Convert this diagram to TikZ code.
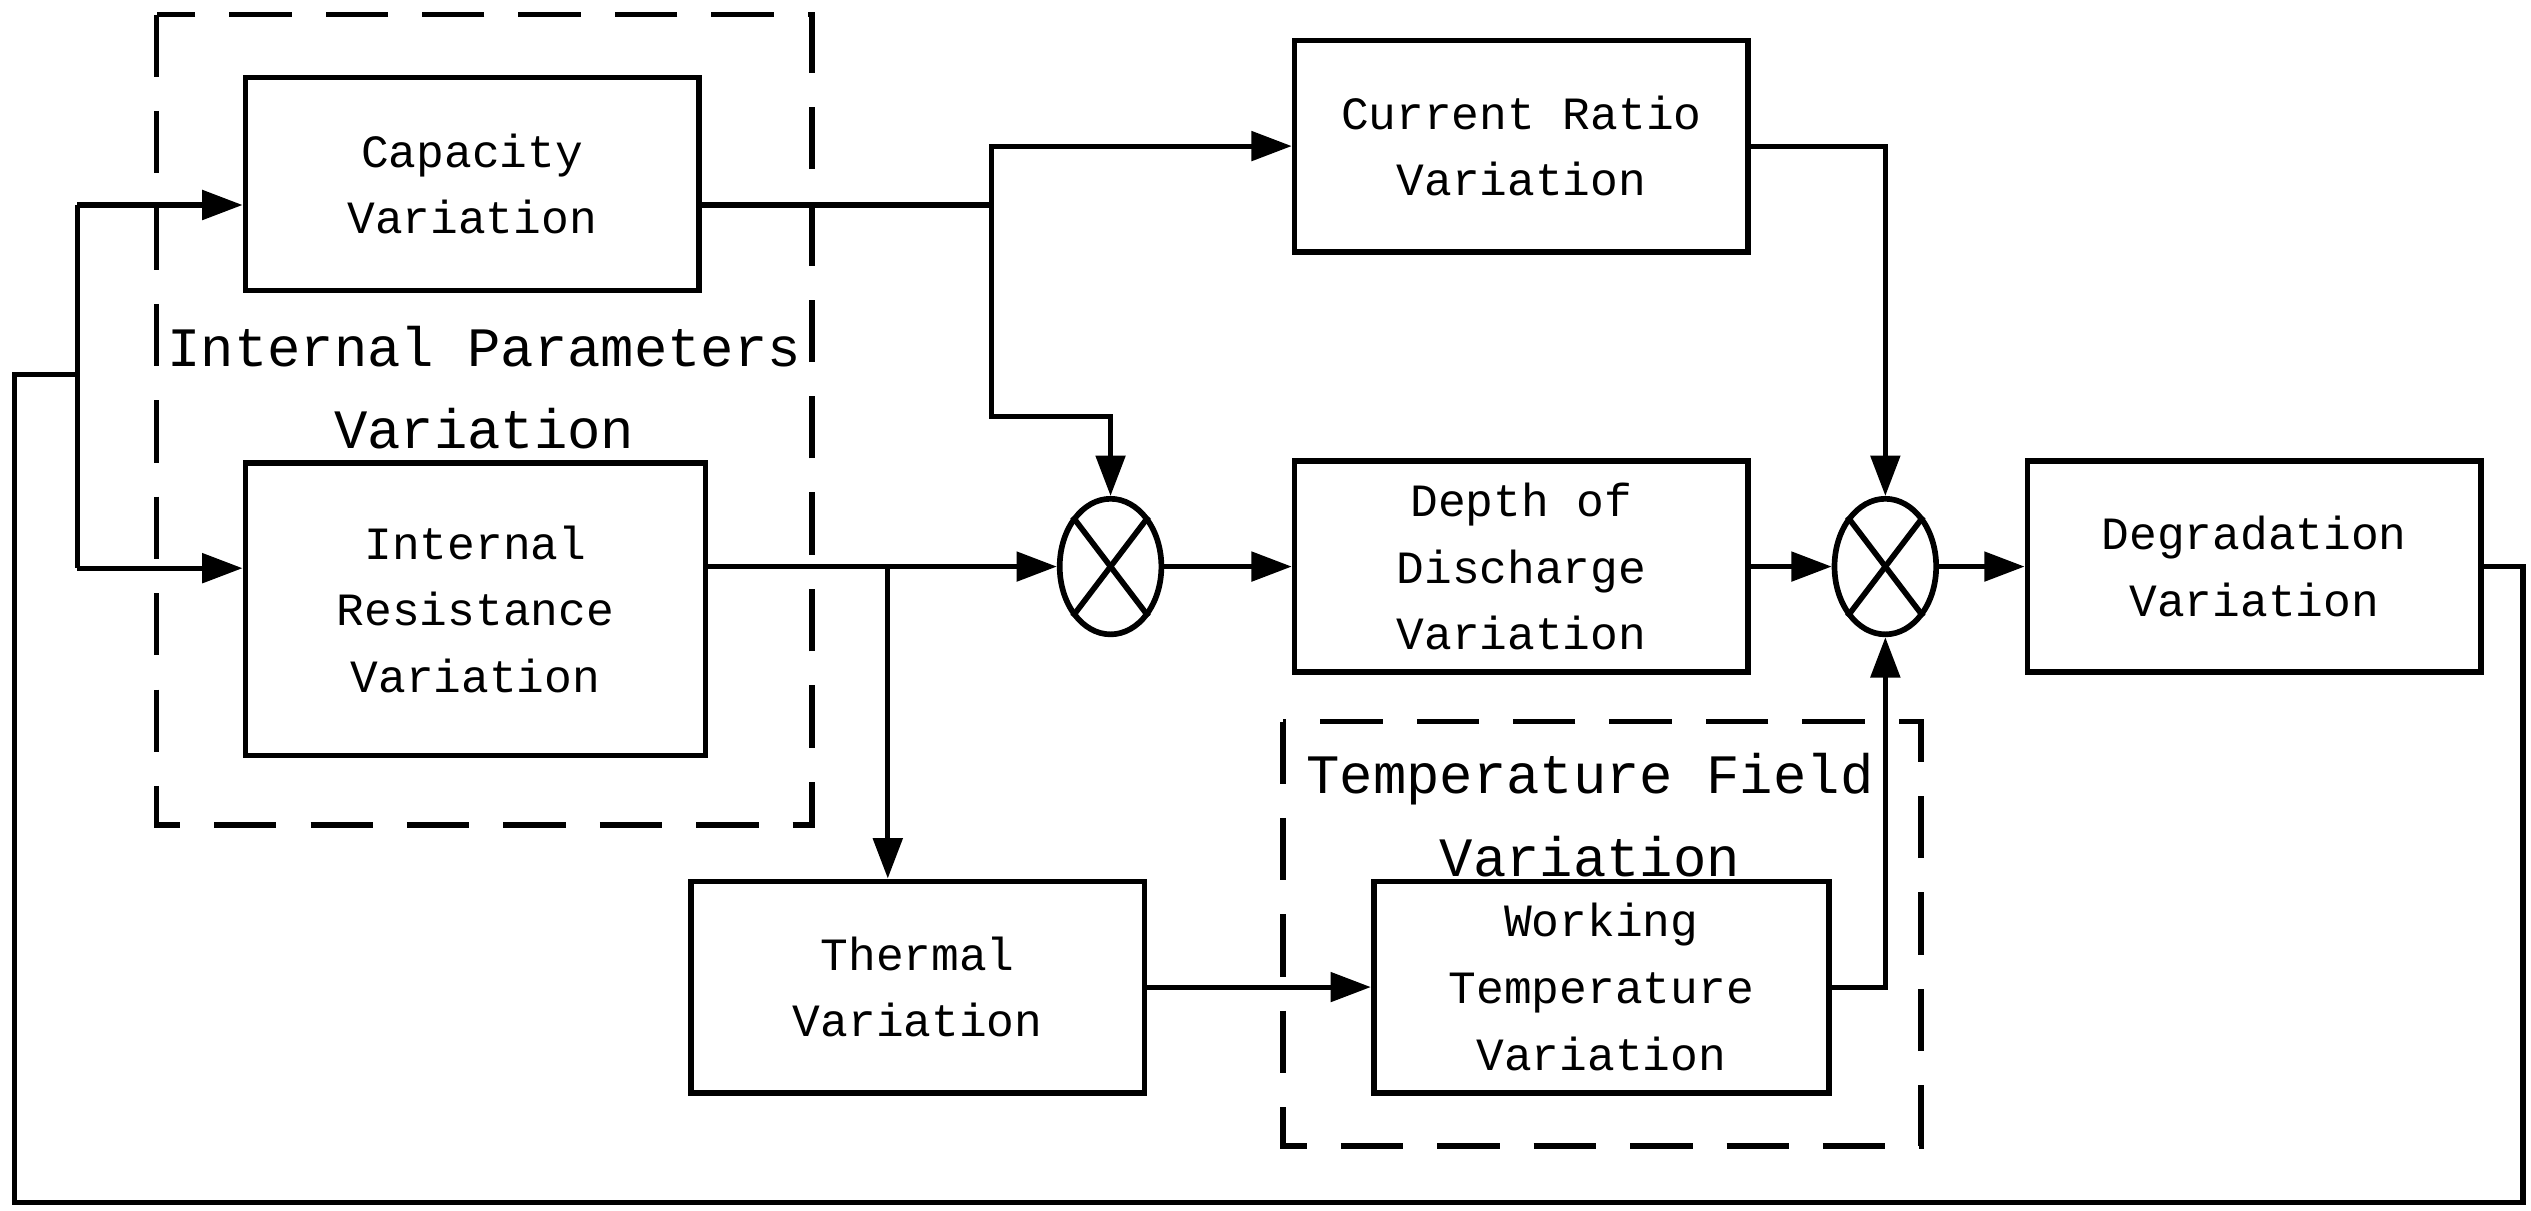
\documentclass[tikz,border=0pt]{standalone}
\usepackage{fontspec}
\setmainfont{Liberation Mono}
\usepackage{tikz}
\usetikzlibrary{arrows.meta,shapes.geometric}

\begin{document}
\begin{tikzpicture}[x=0.02cm, y=-0.02cm,
			block/.style={draw, line width=2pt, align=center, inner sep=0pt,
				font=\fontsize{16.3}{23.5}\selectfont,
				minimum width=5.62cm, minimum height=2.62cm},
			mult/.style={draw, ellipse, line width=2pt, inner sep=0pt,
				minimum width=1.26cm, minimum height=1.68cm},
			group/.style={line width=2pt, dash pattern=on 22pt off 12pt},
			grouplabel/.style={align=center, inner sep=0pt,
				font=\fontsize{19.6}{29}\selectfont},
			link/.style={line width=1.8pt},
			arr/.style={link, -{Triangle[length=0.5cm, width=0.36cm]}}]
			\useasboundingbox (0, 0) rectangle (1568, 750);

			\draw [group] (97, 9) rectangle (503, 511);
			\node [grouplabel] (iplabel) at (300, 240) {Internal Parameters\\Variation};
			\draw [group] (795, 447) rectangle (1190, 710);
			\node [grouplabel] (tflabel) at (985, 505) {Temperature Field\\Variation};

			\node [block, minimum height=2.64cm] (cap) at (292.5, 114) {Capacity\\Variation};
			\node [block, minimum width=5.7cm, minimum height=3.62cm] (ir) at (294.5, 377.5) {Internal\\Resistance\\Variation};
			\node [block] (cr) at (942.5, 90.5) {Current Ratio\\Variation};
			\node [block] (dod) at (942.5, 351) {Depth of\\Discharge\\Variation};
			\node [block] (deg) at (1396.5, 351) {Degradation\\Variation};
			\node [block] (th) at (568.5, 611.5) {Thermal\\Variation};
			\node [block, minimum width=5.64cm] (wt) at (992, 611.5) {Working\\Temperature\\Variation};

			\node [mult] (m1) at (688, 351) {};
			\draw [line width=2pt] (m1.north west) -- (m1.south east);
			\draw [line width=2pt] (m1.north east) -- (m1.south west);
			\node [mult] (m2) at (1168, 351) {};
			\draw [line width=2pt] (m2.north west) -- (m2.south east);
			\draw [line width=2pt] (m2.north east) -- (m2.south west);

			\coordinate (fb) at (48, 232);
			\coordinate (capin) at (48, 127);
			\coordinate (irin) at (48, 352);
			\coordinate (fbr) at (1563, 745);
			\coordinate (fbl) at (9, 745);
			\draw [link] (deg.east) -| (fbr) -- (fbl) |- (fb);
			\draw [link] (capin) -- (irin);
			\draw [arr] (capin) -- (capin -| cap.west);
			\draw [arr] (irin) -- (irin -| ir.west);

			\coordinate (cb) at (614, 127);
			\coordinate (cb2) at (614, 258);
			\draw [link] (cap.east |- cb) -- (cb);
			\draw [arr] (cb) |- (cr.west);
			\draw [arr] (cb) -- (cb2) -| (m1.north);

			\coordinate (tb) at (550, 351);
			\draw [arr] (ir.east |- m1) -- (m1.west);
			\draw [arr] (tb) -- (tb |- th.north);

			\draw [arr] (m1.east) -- (dod.west);
			\draw [arr] (cr.east) -| (m2.north);
			\draw [arr] (dod.east) -- (m2.west);
			\draw [arr] (m2.east) -- (deg.west);
			\draw [arr] (th.east) -- (wt.west);
			\draw [arr] (wt.east) -| (m2.south);
		\end{tikzpicture}
\end{document}
